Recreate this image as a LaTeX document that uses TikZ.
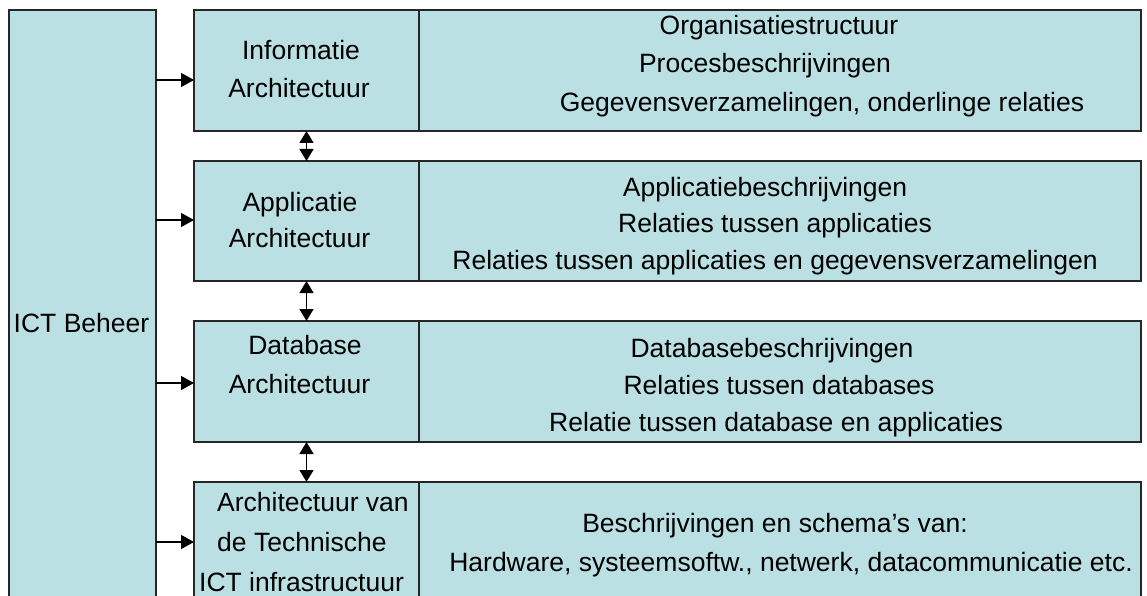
\documentclass[tikz,border=0pt]{standalone}
\usepackage{fontspec}
\setmainfont{Liberation Sans}
\usetikzlibrary{arrows.meta}
\definecolor{panel}{RGB}{186,224,227}
\definecolor{edge}{RGB}{38,38,38}

\begin{document}
\begin{tikzpicture}[x=1pt,y=-1pt,
  box/.style={draw=edge, line width=1.3pt, fill=panel, inner sep=0pt, outer sep=0pt, anchor=north west},
  lbl/.style={anchor=base, inner sep=0pt, font=\fontsize{26.5}{30}\selectfont},
  lblw/.style={lbl, anchor=base west},
  arr/.style={line width=1.3pt, -{Triangle[length=13pt,width=14pt]}},
  dbl/.style={line width=1.3pt, {Triangle[length=12pt,width=14pt]}-{Triangle[length=12pt,width=14pt]}}]

\useasboundingbox (0,0) rectangle (1147,596);

% management column on the left
\node[box, minimum width=147pt, minimum height=600pt] (ict) at (9,10) {};
\node[lbl] (ictt) at (81.5,332) {ICT Beheer};

% four architecture layers: name cell and description cell
\node[box, minimum width=225pt, minimum height=121pt] (infoL) at (194,10) {};
\node[box, minimum width=722pt, minimum height=121pt] (infoR) at (419,10) {};
\node[box, minimum width=225pt, minimum height=120pt] (appL) at (194,161) {};
\node[box, minimum width=722pt, minimum height=120pt] (appR) at (419,161) {};
\node[box, minimum width=225pt, minimum height=121pt] (dbL) at (194,321) {};
\node[box, minimum width=722pt, minimum height=121pt] (dbR) at (419,321) {};
\node[box, minimum width=225pt, minimum height=130pt] (techL) at (194,482) {};
\node[box, minimum width=722pt, minimum height=130pt] (techR) at (419,482) {};

% layer names
\node[lbl] (infoA) at (301,60) {Informatie};
\node[lbl] (infoB) at (299,98) {Architectuur};
\node[lbl] (appA) at (300,211) {Applicatie};
\node[lbl] (appB) at (299.5,247) {Architectuur};
\node[lbl] (dbA) at (305,354) {Database};
\node[lbl] (dbB) at (299.5,393) {Architectuur};
\node[lblw] (techA) at (217,511) {Architectuur van};
\node[lblw] (techB) at (217,551) {de Technische};
\node[lblw] (techC) at (199,591) {ICT infrastructuur};

% layer contents
\node[lbl] (infoR1) at (779,35) {Organisatiestructuur};
\node[lbl] (infoR2) at (765,73) {Procesbeschrijvingen};
\node[lbl] (infoR3) at (822,112) {Gegevensverzamelingen, onderlinge relaties};
\node[lbl] (appR1) at (765,196) {Applicatiebeschrijvingen};
\node[lbl] (appR2) at (775,232) {Relaties tussen applicaties};
\node[lbl] (appR3) at (775,269) {Relaties tussen applicaties en gegevensverzamelingen};
\node[lbl] (dbR1) at (772,357) {Databasebeschrijvingen};
\node[lbl] (dbR2) at (779,394) {Relaties tussen databases};
\node[lbl] (dbR3) at (776,431) {Relatie tussen database en applicaties};
\node[lbl] (techR1) at (775,532) {Beschrijvingen en schema’s van:};
\node[lbl] (techR2) at (791,571) {Hardware, systeemsoftw., netwerk, datacommunicatie etc.};

% heights of the feed arrows
\coordinate (h1) at (0,80);
\coordinate (h2) at (0,220);
\coordinate (h3) at (0,383);
\coordinate (h4) at (0,542);

\draw[arr] (ict.east |- h1) -- (infoL.west |- h1);
\draw[arr] (ict.east |- h2) -- (appL.west |- h2);
\draw[arr] (ict.east |- h3) -- (dbL.west |- h3);
\draw[arr] (ict.east |- h4) -- (techL.west |- h4);

% links between neighbouring layers
\draw[dbl] (infoL.south) -- (appL.north);
\draw[dbl] (appL.south) -- (dbL.north);
\draw[dbl] (dbL.south) -- (techL.north);
\end{tikzpicture}
\end{document}
